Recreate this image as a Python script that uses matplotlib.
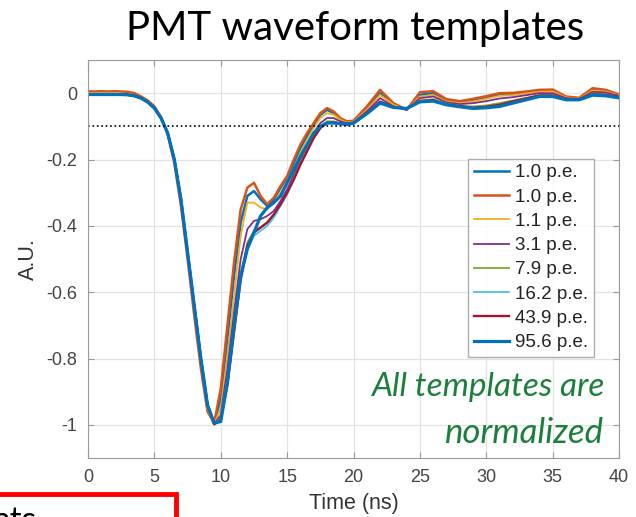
import numpy as np
import matplotlib
matplotlib.use("Agg")
import matplotlib.pyplot as plt
from matplotlib.patches import Rectangle

# sample times (ns): 0.5 ns steps up to 20, then 1 ns steps
time_ns = [0, 0.5, 1, 1.5, 2, 2.5, 3, 3.5, 4, 4.5,
           5, 5.5, 6, 6.5, 7, 7.5, 8, 8.5, 9, 9.5,
           10, 10.5, 11, 11.5, 12, 12.5, 13, 13.5, 14, 14.5,
           15, 15.5, 16, 16.5, 17, 17.5, 18, 18.5, 19, 19.5,
           20, 21, 22, 23, 24, 25, 26, 27, 28, 29,
           30, 31, 32, 33, 34, 35, 36, 37, 38, 39, 40]

labels = ["1.0 p.e.", "1.0 p.e.", "1.1 p.e.", "3.1 p.e.",
          "7.9 p.e.", "16.2 p.e.", "43.9 p.e.", "95.6 p.e."]

pe_1a = [-0.003, -0.004, -0.003, -0.004, -0.003, -0.004, -0.005, -0.008, -0.015, -0.027,
         -0.045, -0.075, -0.12, -0.2, -0.32, -0.48, -0.64, -0.80, -0.94, -0.995,
         -0.92, -0.74, -0.55, -0.39, -0.31, -0.295, -0.32, -0.34, -0.32, -0.285,
         -0.255, -0.21, -0.165, -0.13, -0.095, -0.065, -0.05, -0.06, -0.078, -0.087,
         -0.085, -0.045, 0.0, -0.035, -0.05, -0.005, 0.0, -0.022, -0.027, -0.02,
         -0.012, -0.003, -0.002, 0.003, 0.008, 0.008, -0.012, -0.016, 0.012, 0.008, -0.006]

pe_1b = [0.006, 0.005, 0.006, 0.005, 0.006, 0.005, 0.004, 0.0, -0.01, -0.022,
         -0.04, -0.072, -0.125, -0.21, -0.34, -0.50, -0.67, -0.83, -0.96, -0.995,
         -0.89, -0.70, -0.51, -0.35, -0.285, -0.27, -0.31, -0.335, -0.315, -0.28,
         -0.25, -0.2, -0.155, -0.12, -0.09, -0.06, -0.045, -0.055, -0.075, -0.085,
         -0.083, -0.04, 0.01, -0.03, -0.05, 0.003, 0.006, -0.018, -0.024, -0.017,
         -0.009, 0.0, 0.001, 0.005, 0.01, 0.011, -0.01, -0.014, 0.015, 0.01, -0.004]

pe_1p1 = [0.0, 0.0, 0.0, 0.0, 0.0, -0.001, -0.003, -0.007, -0.014, -0.026,
          -0.044, -0.074, -0.12, -0.2, -0.32, -0.48, -0.645, -0.81, -0.95, -1.0,
          -0.95, -0.79, -0.61, -0.43, -0.33, -0.33, -0.345, -0.35, -0.33, -0.3,
          -0.265, -0.225, -0.18, -0.14, -0.105, -0.075, -0.06, -0.065, -0.08, -0.088,
          -0.086, -0.05, -0.005, -0.035, -0.05, -0.01, -0.005, -0.025, -0.03, -0.025,
          -0.017, -0.008, -0.006, -0.001, 0.004, 0.005, -0.013, -0.016, 0.008, 0.005, -0.007]

pe_3p1 = [-0.002, -0.002, -0.002, -0.002, -0.002, -0.003, -0.004, -0.008, -0.015, -0.027,
          -0.045, -0.075, -0.12, -0.2, -0.32, -0.48, -0.64, -0.805, -0.945, -0.998,
          -0.97, -0.83, -0.66, -0.5, -0.41, -0.385, -0.38, -0.37, -0.355, -0.325,
          -0.29, -0.245, -0.2, -0.16, -0.12, -0.09, -0.075, -0.075, -0.085, -0.09,
          -0.088, -0.055, -0.015, -0.04, -0.05, -0.015, -0.01, -0.028, -0.033, -0.03,
          -0.024, -0.016, -0.012, -0.006, 0.0, 0.0, -0.015, -0.017, 0.004, 0.002, -0.008]

pe_7p9 = [-0.003, -0.003, -0.003, -0.003, -0.003, -0.004, -0.005, -0.008, -0.015, -0.027,
          -0.045, -0.075, -0.12, -0.2, -0.32, -0.48, -0.64, -0.80, -0.94, -0.998,
          -0.98, -0.86, -0.7, -0.55, -0.45, -0.415, -0.405, -0.39, -0.37, -0.335,
          -0.3, -0.255, -0.21, -0.17, -0.13, -0.1, -0.085, -0.085, -0.09, -0.093,
          -0.09, -0.06, -0.025, -0.04, -0.048, -0.022, -0.018, -0.032, -0.038, -0.04,
          -0.037, -0.03, -0.022, -0.014, -0.006, -0.006, -0.018, -0.018, -0.002, -0.003, -0.01]

pe_16p2 = [-0.004, -0.004, -0.004, -0.004, -0.004, -0.004, -0.005, -0.008, -0.015, -0.027,
           -0.045, -0.075, -0.12, -0.2, -0.32, -0.48, -0.64, -0.80, -0.94, -0.998,
           -0.985, -0.88, -0.72, -0.57, -0.47, -0.43, -0.415, -0.4, -0.375, -0.34,
           -0.305, -0.26, -0.215, -0.175, -0.135, -0.105, -0.09, -0.088, -0.092, -0.095,
           -0.092, -0.062, -0.028, -0.042, -0.048, -0.025, -0.022, -0.035, -0.04, -0.045,
           -0.042, -0.036, -0.026, -0.017, -0.008, -0.008, -0.019, -0.019, -0.005, -0.006, -0.012]

pe_43p9 = [-0.004, -0.004, -0.004, -0.004, -0.004, -0.004, -0.005, -0.008, -0.015, -0.027,
           -0.045, -0.075, -0.12, -0.2, -0.32, -0.48, -0.64, -0.80, -0.94, -0.998,
           -0.985, -0.88, -0.72, -0.56, -0.46, -0.42, -0.405, -0.39, -0.365, -0.335,
           -0.3, -0.26, -0.215, -0.175, -0.135, -0.105, -0.09, -0.088, -0.092, -0.094,
           -0.091, -0.06, -0.026, -0.041, -0.047, -0.024, -0.021, -0.034, -0.039, -0.044,
           -0.041, -0.035, -0.025, -0.016, -0.007, -0.007, -0.018, -0.018, -0.004, -0.005, -0.011]

pe_95p6 = [-0.004, -0.004, -0.004, -0.004, -0.004, -0.004, -0.005, -0.008, -0.015, -0.027,
           -0.045, -0.075, -0.12, -0.2, -0.32, -0.48, -0.64, -0.80, -0.94, -0.995,
           -0.99, -0.87, -0.7, -0.55, -0.47, -0.42, -0.37, -0.345, -0.33, -0.31,
           -0.27, -0.23, -0.19, -0.155, -0.12, -0.1, -0.09, -0.09, -0.092, -0.094,
           -0.09, -0.062, -0.03, -0.043, -0.046, -0.026, -0.024, -0.035, -0.041, -0.046,
           -0.044, -0.04, -0.03, -0.02, -0.01, -0.01, -0.02, -0.02, -0.006, -0.008, -0.014]

waveforms = [pe_1a, pe_1b, pe_1p1, pe_3p1, pe_7p9, pe_16p2, pe_43p9, pe_95p6]

# matlab default line colors
colors = ["#0072BD", "#D95319", "#EDB120", "#7E2F8E",
          "#77AC30", "#4DBEEE", "#A2142F", "#0072BD"]
widths = [1.8, 1.8, 1.3, 1.3, 1.3, 1.3, 1.7, 2.3]

fig = plt.figure(figsize=(6.36, 5.17), dpi=100)
ax = fig.add_axes([0.1384, 0.1141, 0.835, 0.7698])

for wf, c, lw, lab in zip(waveforms, colors, widths, labels):
    ax.plot(time_ns, wf, color=c, lw=lw, label=lab)

ax.axhline(-0.1, color="black", ls=":", lw=1.2)

ax.set_xlim(0, 40)
ax.set_ylim(-1.1, 0.1)
ax.set_xticks(np.arange(0, 41, 5))
ax.set_yticks([-1, -0.8, -0.6, -0.4, -0.2, 0])
ax.set_yticklabels(["-1", "-0.8", "-0.6", "-0.4", "-0.2", "0"])
ax.grid(True, color="#e3e3e3", lw=0.9)
ax.set_axisbelow(True)
ax.tick_params(direction="in", length=4, color="#9a9a9a", labelcolor="#444444",
               labelsize=13, top=True, right=True, pad=8)
for lbl in ax.get_xticklabels() + ax.get_yticklabels():
    lbl.set_family("Liberation Sans")
for sp in ax.spines.values():
    sp.set_color("#9a9a9a")

ax.set_xlabel("Time (ns)", fontsize=15.5, color="#333333", family="Liberation Sans", labelpad=5)
ax.set_ylabel("A.U.", fontsize=15.5, color="#333333", family="Liberation Sans", labelpad=5)

leg = ax.legend(loc="upper right", bbox_to_anchor=(0.952, 0.752),
                prop={"family": "Liberation Sans", "size": 13.5},
                frameon=True, fancybox=False, handlelength=1.9, handletextpad=0.3,
                labelspacing=0.38, borderpad=0.3, borderaxespad=0)
leg.get_frame().set_edgecolor("#9a9a9a")
leg.get_frame().set_linewidth(1.0)
for txt in leg.get_texts():
    txt.set_color("#222222")

ax.text(0.972, 0.155, "All templates are", transform=ax.transAxes, ha="right",
        va="baseline", fontsize=24, style="italic", color="#1b7f3c", family="Lato")
ax.text(0.972, 0.038, "normalized", transform=ax.transAxes, ha="right",
        va="baseline", fontsize=25, style="italic", color="#1b7f3c", family="Lato")

fig.text(0.559, 0.923, "PMT waveform templates", ha="center", va="baseline",
         fontsize=29, color="black", family="Lato")

# fragment of a red box cut off at the bottom edge
fig.patches.append(Rectangle((-0.05, -0.1), 0.327, 0.144, transform=fig.transFigure,
                             fill=False, edgecolor="#ff0000", lw=3.5))
fig.text(0.058, -0.025, "nts", ha="right", va="baseline", fontsize=24,
         color="black", family="Lato")

fig.savefig("out.png", dpi=100)
